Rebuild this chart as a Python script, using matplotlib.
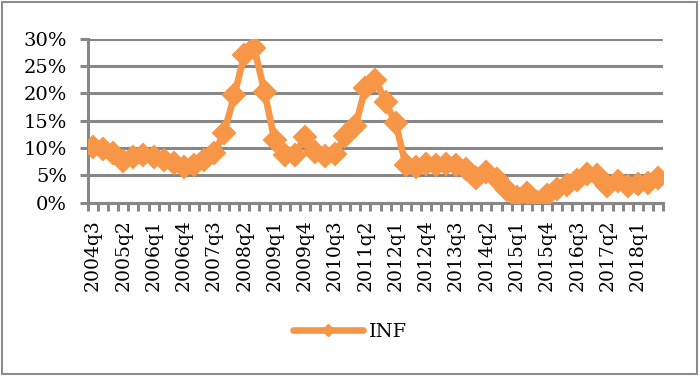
import matplotlib
matplotlib.use("Agg")
import matplotlib.pyplot as plt
from matplotlib.lines import Line2D
from matplotlib.patches import Rectangle
from matplotlib.ticker import FixedLocator, FuncFormatter

quarters = [
    "2004q3", "2004q4",
    "2005q1", "2005q2", "2005q3", "2005q4",
    "2006q1", "2006q2", "2006q3", "2006q4",
    "2007q1", "2007q2", "2007q3", "2007q4",
    "2008q1", "2008q2", "2008q3", "2008q4",
    "2009q1", "2009q2", "2009q3", "2009q4",
    "2010q1", "2010q2", "2010q3", "2010q4",
    "2011q1", "2011q2", "2011q3", "2011q4",
    "2012q1", "2012q2", "2012q3", "2012q4",
    "2013q1", "2013q2", "2013q3", "2013q4",
    "2014q1", "2014q2", "2014q3", "2014q4",
    "2015q1", "2015q2", "2015q3", "2015q4",
    "2016q1", "2016q2", "2016q3", "2016q4",
    "2017q1", "2017q2", "2017q3", "2017q4",
    "2018q1", "2018q2", "2018q3",
]

inf = [
    10.2, 9.8,
    9.0, 7.6, 8.3, 8.8,
    8.3, 7.8, 7.2, 6.5,
    6.8, 7.8, 9.0, 12.8,
    19.6, 27.0, 28.2, 20.2,
    11.4, 8.7, 8.8, 12.0,
    9.3, 8.6, 8.9, 12.2,
    14.0, 21.0, 22.5, 18.4,
    14.5, 6.9, 6.6, 7.0,
    6.9, 7.0, 6.8, 6.2,
    4.6, 5.6, 4.3, 2.3,
    1.1, 1.8, 0.2, 1.4,
    2.5, 3.3, 4.2, 5.2,
    5.1, 3.0, 4.0, 3.0,
    3.4, 3.6, 4.5,
]

y_ticks = [0, 5, 10, 15, 20, 25, 30]
label_step = 3

orange = "#F79646"
grid_gray = "#878787"
serif = ["DejaVu Serif"]

fig = plt.figure(figsize=(7.0, 3.76), dpi=100)
fig.patches.append(Rectangle((0.003, 0.005), 0.993, 0.99, transform=fig.transFigure,
                             fill=False, edgecolor="#8c8c8c", linewidth=1.5))

ax = fig.add_axes([0.1257, 0.4609, 0.8214, 0.4367])
x = list(range(len(quarters)))
ax.plot(x, inf, color=orange, linewidth=4.8, marker="D", markersize=11,
        markeredgecolor=orange, markeredgewidth=1.5, solid_joinstyle="round", zorder=3)

ax.set_xlim(-0.5, len(quarters) - 0.5)
ax.set_ylim(0, 30)
ax.set_yticks(y_ticks)
ax.yaxis.set_major_formatter(FuncFormatter(lambda v, p: f"{v:.0f}%"))
ax.yaxis.grid(True, color=grid_gray, linewidth=2.2)
ax.set_axisbelow(True)

major = x[::label_step]
ax.set_xticks(major)
ax.set_xticklabels([quarters[i] for i in major], rotation=90, family=serif, fontsize=13.5)
ax.xaxis.set_minor_locator(FixedLocator([i - 0.5 for i in range(len(quarters) + 1)]))
ax.tick_params(axis="x", which="major", length=0, pad=12)
ax.tick_params(axis="x", which="minor", length=6, width=2.2, color=grid_gray, direction="out")
ax.tick_params(axis="y", length=6, width=2.2, color=grid_gray, pad=9)
for lab in ax.get_yticklabels():
    lab.set_family(serif)
    lab.set_fontsize(14)

for side in ["top", "right"]:
    ax.spines[side].set_visible(False)
for side in ["left", "bottom"]:
    ax.spines[side].set_color(grid_gray)
    ax.spines[side].set_linewidth(2.2)

handle = Line2D([], [], color=orange, linewidth=4.8, marker="D", markersize=6,
                markeredgecolor=orange, solid_capstyle="round")
fig.legend([handle], ["INF"], loc="center", bbox_to_anchor=(0.5, 0.118), frameon=False,
           handlelength=3.6, handletextpad=0.3, prop={"family": serif, "size": 14})

fig.savefig("out.png", dpi=100)
